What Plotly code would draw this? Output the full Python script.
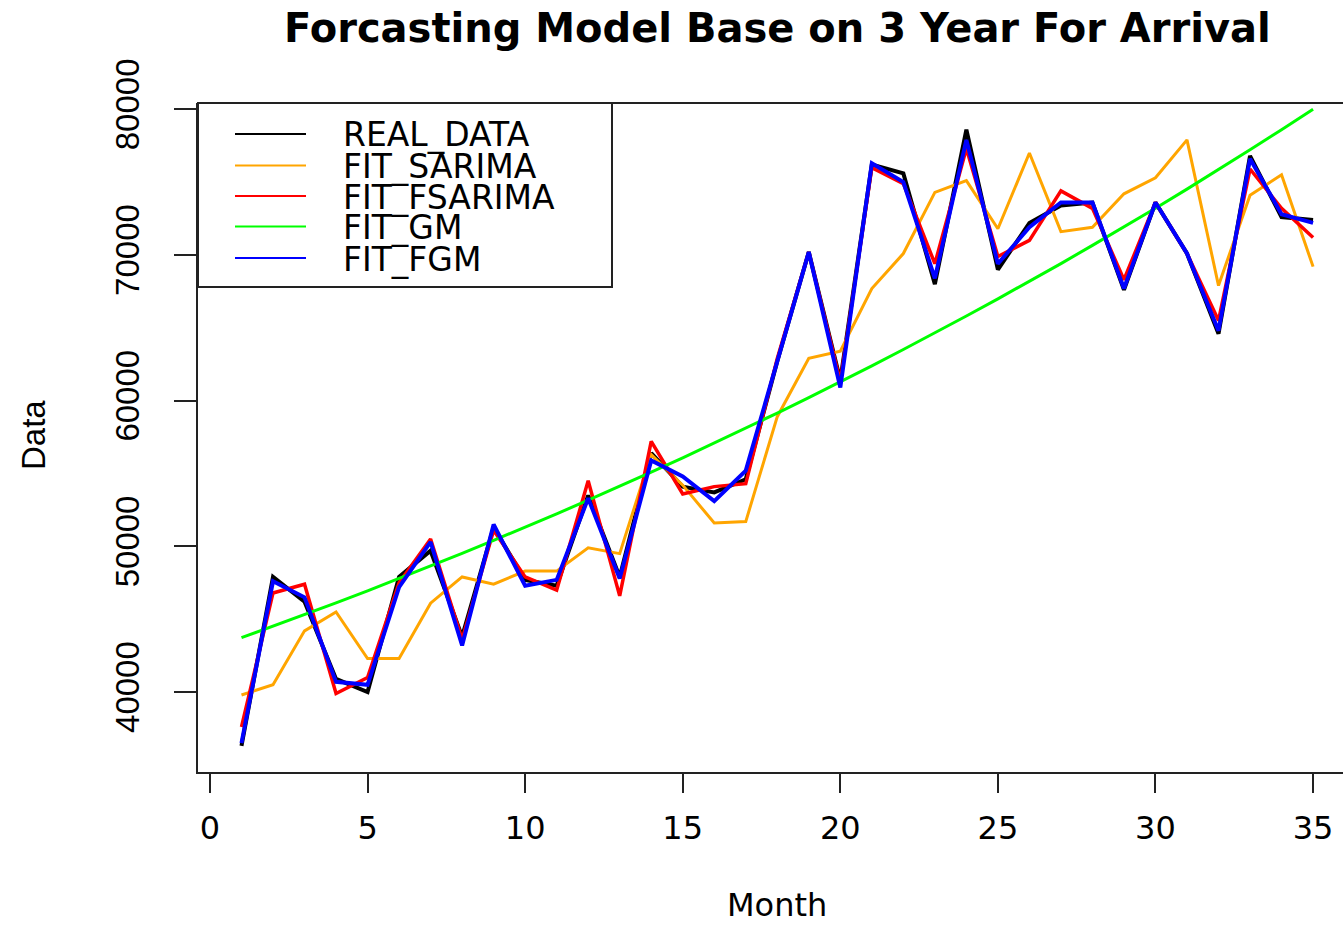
import plotly.graph_objects as go

# Monthly arrivals over three years and the fitted values of four models
months = list(range(1, 36))

real_data = [36300, 47900, 46200, 40900, 40000, 47900, 49700, 43800, 51300, 47700,
             47300, 53500, 47900, 56400, 54100, 53700, 54600, 62700, 70200, 61400,
             76200, 75600, 68000, 78600, 69000, 72200, 73400, 73600, 67600, 73600,
             70100, 64600, 76800, 72600, 72400]

fit_sarima = [39800, 40500, 44200, 45500, 42300, 42300, 46100, 47900, 47400, 48300,
              48300, 49900, 49500, 56300, 54200, 51600, 51700, 58900, 62900, 63400,
              67700, 70100, 74300, 75100, 71800, 77000, 71600, 71900, 74200, 75300,
              77900, 67900, 74100, 75500, 69200]

fit_fsarima = [37600, 46800, 47400, 39900, 41000, 47500, 50500, 43600, 51100, 47900,
               47000, 54500, 46600, 57200, 53600, 54100, 54300, 62900, 70200, 61300,
               76000, 74900, 69400, 77300, 69900, 71000, 74400, 73200, 68300, 73600,
               70100, 65500, 75900, 73200, 71200]

fit_gm = [43730, 44510, 45310, 46120, 46950, 47790, 48650, 49520, 50410, 51310,
          52230, 53170, 54120, 55090, 56080, 57090, 58110, 59150, 60210, 61290,
          62390, 63510, 64650, 65810, 66990, 68190, 69410, 70660, 71920, 73210,
          74520, 75860, 77220, 78600, 80010]

fit_fgm = [36500, 47600, 46500, 40700, 40500, 47200, 50300, 43200, 51500, 47300,
           47700, 53300, 47800, 55900, 54800, 53100, 55200, 62700, 70200, 60900,
           76300, 75000, 68400, 77900, 69400, 71900, 73600, 73600, 67700, 73600,
           70100, 64800, 76600, 72800, 72200]

series_names = ["REAL_DATA", "FIT_SARIMA", "FIT_FSARIMA", "FIT_GM", "FIT_FGM"]
series_colors = ["#000000", "#FFA500", "#FF0000", "#00FF00", "#0000FF"]
series_widths = [4, 3, 3.5, 3, 4]
series_values = [real_data, fit_sarima, fit_fsarima, fit_gm, fit_fgm]

x_ticks = [0, 5, 10, 15, 20, 25, 30, 35]
y_ticks = [40000, 50000, 60000, 70000, 80000]

WIDE = "DejaVu Sans, Verdana, sans-serif"
NARROW = "Liberation Sans, Arial, sans-serif"
W, H = 1343, 925
L, T, B = 198, 103, 153
PW, PH = W - L, H - T - B


def px_x(px):
    return (px - L) / PW


def px_y(py):
    return (H - B - py) / PH


fig = go.Figure()
for name, vals, col, lw in zip(series_names, series_values, series_colors, series_widths):
    fig.add_trace(go.Scatter(x=months, y=vals, mode="lines", name=name,
                             line=dict(color=col, width=lw), showlegend=False))

shapes = [
    # top edge of the plot frame
    dict(type="line", xref="paper", yref="paper", x0=0, x1=1, y0=1, y1=1,
         line=dict(color="#222222", width=2)),
    # legend box
    dict(type="rect", xref="paper", yref="paper", layer="above",
         x0=px_x(198), x1=px_x(612), y0=px_y(287), y1=px_y(103),
         fillcolor="white", line=dict(color="#222222", width=2)),
]
annotations = []
legend_rows = [134, 165.5, 196, 226.5, 258]
for name, col, ry in zip(series_names, series_colors, legend_rows):
    shapes.append(dict(type="line", xref="paper", yref="paper", layer="above",
                       x0=px_x(235), x1=px_x(306), y0=px_y(ry), y1=px_y(ry),
                       line=dict(color=col, width=2)))
    annotations.append(dict(text=name, xref="paper", yref="paper",
                            x=px_x(341), y=px_y(ry + 1), xanchor="left", yanchor="middle",
                            showarrow=False, font=dict(family=WIDE, size=33, color="#000")))

annotations += [
    dict(text="<b>Forcasting Model Base on 3 Year For Arrival</b>", xref="paper", yref="paper",
         x=px_x(777), y=px_y(28), xanchor="center", yanchor="middle", showarrow=False,
         font=dict(family=WIDE, size=40, color="#000")),
    dict(text="Month", xref="paper", yref="paper", x=px_x(777), y=px_y(905),
         xanchor="center", yanchor="middle", showarrow=False,
         font=dict(family=WIDE, size=32, color="#000")),
    dict(text="Data", xref="paper", yref="paper", x=px_x(33), y=px_y(435),
         xanchor="center", yanchor="middle", showarrow=False, textangle=-90,
         font=dict(family=NARROW, size=33, color="#000")),
]

fig.update_layout(
    width=W, height=H,
    margin=dict(l=L, r=0, t=T, b=B),
    paper_bgcolor="white", plot_bgcolor="white",
    showlegend=False,
    shapes=shapes, annotations=annotations,
    xaxis=dict(range=[-0.38, 35.95], tickvals=x_ticks, ticks="outside", ticklen=19,
               tickwidth=2, tickcolor="#222222", showgrid=False, zeroline=False,
               showline=True, linecolor="#222222", linewidth=2, ticklabelstandoff=8,
               tickfont=dict(family=WIDE, size=32, color="#000")),
    yaxis=dict(range=[34511, 80432], tickvals=y_ticks, ticks="outside", ticklen=22,
               tickwidth=2, tickcolor="#222222", showgrid=False, zeroline=False,
               showline=True, linecolor="#222222", linewidth=2, tickangle=-90,
               ticklabelstandoff=22, tickformat="d",
               tickfont=dict(family=NARROW, size=33, color="#000")),
)

fig.write_html("out.html")
